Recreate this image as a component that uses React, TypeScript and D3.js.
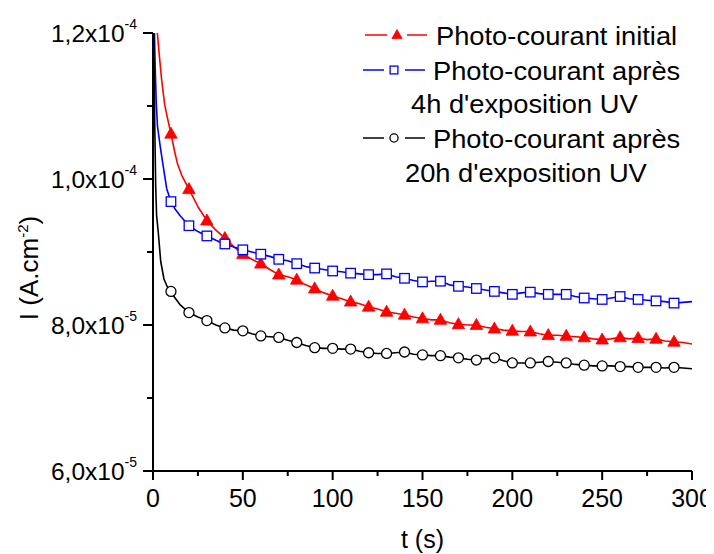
import React from "react";
import * as d3 from "d3";

// time (s) and photocurrent (units of 1e-5 A.cm^-2)
const redT = [2, 2.5, 3.5, 4.8, 6.5, 8, 10, 12, 13.5, 16, 20, 25, 30, 35, 40, 45, 50, 55, 60, 65, 70, 75, 80, 85, 90, 95, 100, 105, 110, 115, 120, 125, 130, 135, 140, 145, 150, 155, 160, 165, 170, 175, 180, 185, 190, 195, 200, 205, 210, 215, 220, 225, 230, 235, 240, 245, 250, 255, 260, 265, 270, 275, 280, 285, 290, 295, 300];
const redV = [12.15, 11.98, 11.7, 11.36, 11.02, 10.84, 10.62, 10.38, 10.22, 10.05, 9.86, 9.62, 9.43, 9.3, 9.19, 9.07, 8.97, 8.9, 8.84, 8.76, 8.69, 8.66, 8.62, 8.55, 8.5, 8.44, 8.4, 8.36, 8.32, 8.29, 8.25, 8.22, 8.18, 8.16, 8.14, 8.11, 8.09, 8.07, 8.07, 8.03, 8.01, 8.0, 8.0, 7.97, 7.95, 7.93, 7.92, 7.91, 7.91, 7.88, 7.86, 7.86, 7.85, 7.84, 7.83, 7.81, 7.8, 7.81, 7.83, 7.81, 7.82, 7.8, 7.81, 7.78, 7.77, 7.76, 7.74];

const blueT = [0.5, 0.8, 1.2, 1.8, 2.5, 4, 5.4, 7.6, 10, 12, 15, 20, 25, 30, 35, 40, 45, 50, 55, 60, 65, 70, 75, 80, 85, 90, 95, 100, 105, 110, 115, 120, 125, 130, 135, 140, 145, 150, 155, 160, 165, 170, 175, 180, 185, 190, 195, 200, 205, 210, 215, 220, 225, 230, 235, 240, 245, 250, 255, 260, 265, 270, 275, 280, 285, 290, 295, 300];
const blueV = [12.3, 12.0, 11.55, 11.05, 10.72, 10.45, 10.22, 9.87, 9.69, 9.6, 9.5, 9.36, 9.28, 9.22, 9.16, 9.11, 9.07, 9.03, 9.0, 8.97, 8.94, 8.9, 8.88, 8.84, 8.8, 8.78, 8.76, 8.74, 8.73, 8.71, 8.7, 8.69, 8.69, 8.7, 8.66, 8.64, 8.61, 8.59, 8.6, 8.6, 8.55, 8.53, 8.52, 8.5, 8.48, 8.46, 8.44, 8.42, 8.44, 8.45, 8.43, 8.42, 8.42, 8.42, 8.39, 8.37, 8.36, 8.35, 8.37, 8.39, 8.36, 8.35, 8.34, 8.33, 8.32, 8.3, 8.31, 8.32];

const blackT = [0.3, 0.6, 1.0, 1.5, 2.0, 3.0, 4.3, 6.1, 8, 10, 12, 15, 20, 25, 30, 35, 40, 45, 50, 55, 60, 65, 70, 75, 80, 85, 90, 95, 100, 105, 110, 115, 120, 125, 130, 135, 140, 145, 150, 155, 160, 165, 170, 175, 180, 185, 190, 195, 200, 205, 210, 215, 220, 225, 230, 235, 240, 245, 250, 255, 260, 265, 270, 275, 280, 285, 290, 295, 300];
const blackV = [12.3, 11.6, 10.7, 9.9, 9.5, 9.25, 8.87, 8.63, 8.52, 8.46, 8.38, 8.28, 8.17, 8.11, 8.06, 8.0, 7.96, 7.93, 7.92, 7.88, 7.85, 7.84, 7.83, 7.79, 7.76, 7.72, 7.69, 7.68, 7.68, 7.67, 7.67, 7.64, 7.62, 7.61, 7.61, 7.62, 7.63, 7.6, 7.59, 7.58, 7.58, 7.56, 7.55, 7.53, 7.52, 7.54, 7.55, 7.51, 7.48, 7.48, 7.48, 7.49, 7.5, 7.49, 7.48, 7.46, 7.45, 7.44, 7.44, 7.44, 7.43, 7.43, 7.42, 7.42, 7.42, 7.41, 7.42, 7.41, 7.4];

const markerTimes = [10, 20, 30, 40, 50, 60, 70, 80, 90, 100, 110, 120, 130, 140, 150, 160, 170, 180, 190, 200, 210, 220, 230, 240, 250, 260, 270, 280, 290];

const xTicks = [0, 50, 100, 150, 200, 250, 300];
const xMinorTicks = [25, 75, 125, 175, 225, 275];
const yTicks = [6, 8, 10, 12];
const yMinorTicks = [7, 9, 11];
const yTickMantissa = ["6,0x10", "8,0x10", "1,0x10", "1,2x10"];
const yTickExponent = ["-5", "-5", "-4", "-4"];

const legendLabels = [
  ["Photo-courant initial"],
  ["Photo-courant après", "4h d'exposition UV"],
  ["Photo-courant après", "20h d'exposition UV"],
];

const FONT = "'Liberation Sans', Arial, sans-serif";

const x = d3.scaleLinear().domain([0, 300]).range([153, 692]);
const y = d3.scaleLinear().domain([6, 12]).range([471, 33]);

type Kind = "tri" | "sq" | "circ";

function Marker({ kind, cx, cy, color, k = 1 }: { kind: Kind; cx: number; cy: number; color: string; k?: number }) {
  if (kind === "tri") {
    const s = 12.5 * k;
    const h = s * 0.88;
    const pts = `${cx},${cy - h * 0.6} ${cx - s / 2},${cy + h * 0.4} ${cx + s / 2},${cy + h * 0.4}`;
    return <polygon points={pts} fill={color} stroke={color} strokeWidth={0.8} />;
  }
  if (kind === "sq") {
    const s = 9.5 * k;
    return <rect x={cx - s / 2} y={cy - s / 2} width={s} height={s} fill="#fff" stroke={color} strokeWidth={1.3} />;
  }
  return <circle cx={cx} cy={cy} r={5 * k} fill="#fff" stroke={color} strokeWidth={1.3} />;
}

const series = [
  { T: redT, V: redV, color: "#ff0000", kind: "tri" as Kind },
  { T: blueT, V: blueV, color: "#0000ff", kind: "sq" as Kind },
  { T: blackT, V: blackV, color: "#000000", kind: "circ" as Kind },
];

export default function App() {
  const line = d3
    .line<[number, number]>()
    .x((d) => x(d[0]))
    .y((d) => y(d[1]));

  const legendRows = [
    { yc: 35, lineX: [365, 387, 407, 427], mx: 397, textX: 436, textY: 45, second: null as null | { x: number; y: number } },
    { yc: 70, lineX: [363, 384, 405, 425], mx: 394, textX: 433, textY: 80, second: { x: 411, y: 113 } },
    { yc: 138, lineX: [363, 384, 405, 425], mx: 394, textX: 433, textY: 148, second: { x: 405, y: 182 } },
  ];

  return (
    <svg width={706} height={546} style={{ display: "block" }} viewBox="8 8 706 546">
      <rect x={0} y={0} width={714} height={554} fill="#fff" />
      <defs>
        <clipPath id="plotClip">
          <rect x={x(0)} y={y(12)} width={x(300) - x(0) + 2} height={y(6) - y(12)} />
        </clipPath>
      </defs>

      <g clipPath="url(#plotClip)">
        {series.map((s, i) => (
          <path
            key={i}
            d={line(s.T.map((t, j) => [t, s.V[j]] as [number, number])) || ""}
            fill="none"
            stroke={s.color}
            strokeWidth={1.6}
            strokeLinejoin="round"
          />
        ))}
        {series.map((s, i) =>
          markerTimes.map((t) => {
            const j = s.T.indexOf(t);
            return <Marker key={`${i}-${t}`} kind={s.kind} cx={x(t)} cy={y(s.V[j])} color={s.color} />;
          })
        )}
      </g>

      {/* axes */}
      <g stroke="#000" strokeWidth={2}>
        <line x1={x(0)} x2={x(300)} y1={y(6)} y2={y(6)} />
        <line x1={x(0)} x2={x(0)} y1={y(6)} y2={y(12)} />
        {xTicks.map((t) => (
          <line key={`xt${t}`} x1={x(t)} x2={x(t)} y1={y(6)} y2={y(6) + 9} />
        ))}
        {xMinorTicks.map((t) => (
          <line key={`xm${t}`} x1={x(t)} x2={x(t)} y1={y(6)} y2={y(6) + 5} />
        ))}
        {yTicks.map((v) => (
          <line key={`yt${v}`} x1={x(0) - 10} x2={x(0)} y1={y(v)} y2={y(v)} />
        ))}
        {yMinorTicks.map((v) => (
          <line key={`ym${v}`} x1={x(0) - 6} x2={x(0)} y1={y(v)} y2={y(v)} />
        ))}
      </g>

      <g fontFamily={FONT} fill="#000">
        {xTicks.map((t) => (
          <text key={`xl${t}`} x={x(t)} y={507} fontSize={25} textAnchor="middle">
            {t}
          </text>
        ))}
        {yTicks.map((v, i) => (
          <text key={`yl${v}`} x={137} y={y(v) + 9} fontSize={24.5} textAnchor="end">
            <tspan>{yTickMantissa[i]}</tspan>
            <tspan dy={-13} fontSize={14}>
              {yTickExponent[i]}
            </tspan>
          </text>
        ))}
        <text x={x(150)} y={548} fontSize={25} textAnchor="middle">
          t (s)
        </text>
        <text transform={`translate(38,268) rotate(-90)`} fontSize={26} textAnchor="middle">
          <tspan>I (A.cm</tspan>
          <tspan dy={-10} fontSize={15}>
            -2
          </tspan>
          <tspan dy={10}>)</tspan>
        </text>

        {legendRows.map((r, i) => (
          <g key={`lg${i}`}>
            <line x1={r.lineX[0]} x2={r.lineX[1]} y1={r.yc} y2={r.yc} stroke={series[i].color} strokeWidth={1.5} />
            <line x1={r.lineX[2]} x2={r.lineX[3]} y1={r.yc} y2={r.yc} stroke={series[i].color} strokeWidth={1.5} />
            <Marker kind={series[i].kind} cx={r.mx} cy={r.yc} color={series[i].color} k={0.82} />
            <text x={r.textX} y={r.textY} fontSize={26} transform={`translate(${r.textX},0) scale(1.05,1) translate(${-r.textX},0)`}>
              {legendLabels[i][0]}
            </text>
            {r.second && (
              <text x={r.second.x} y={r.second.y} fontSize={26} transform={`translate(${r.second.x},0) scale(1.05,1) translate(${-r.second.x},0)`}>
                {legendLabels[i][1]}
              </text>
            )}
          </g>
        ))}
      </g>
    </svg>
  );
}
